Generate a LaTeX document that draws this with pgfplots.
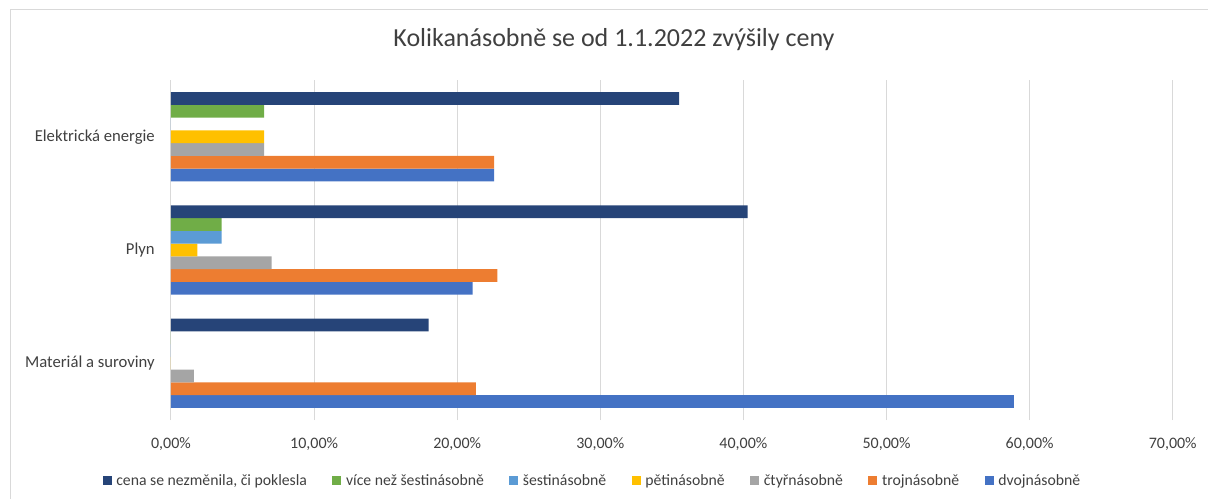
\documentclass[border=0pt]{standalone}
\usepackage{fontspec}
\setmainfont{Carlito}
\usepackage{pgfplots}
\pgfplotsset{compat=1.18}

\definecolor{cNone}{HTML}{264478}
\definecolor{cMore}{HTML}{70AD47}
\definecolor{cSix}{HTML}{5B9BD5}
\definecolor{cFive}{HTML}{FFC000}
\definecolor{cFour}{HTML}{A5A5A5}
\definecolor{cThree}{HTML}{ED7D31}
\definecolor{cTwo}{HTML}{4472C4}
\definecolor{gridc}{HTML}{D9D9D9}
\definecolor{txt}{HTML}{404040}

\begin{document}
\begin{tikzpicture}
\path[use as bounding box] (0,0) rectangle (906pt,-374.25pt);
\draw[line width=0.75pt, gridc] (7.5pt,-380pt) -- (7.5pt,-7.5pt) -- (912pt,-7.5pt);
\node[anchor=base, font=\fontsize{19.5}{22}\selectfont, text=txt] at (460.5pt,-35.25pt)
  {Kolikanásobně se od 1.1.2022 zvýšily ceny};

\begin{axis}[
  at={(128.25pt,-315pt)}, anchor=south west,
  scale only axis, width=751.3pt, height=255pt,
  xbar, bar width=0.1126,
  xmin=0, xmax=70, ymin=-0.5, ymax=2.5,
  enlargelimits=false,
  ytick={0,1,2},
  yticklabels={Materiál a suroviny, Plyn, Elektrická energie},
  xtick={0,10,...,70},
  xticklabels={{0,00\%},{10,00\%},{20,00\%},{30,00\%},{40,00\%},{50,00\%},{60,00\%},{70,00\%}},
  xmajorgrids,
  grid style={gridc, line width=0.75pt},
  axis line style={draw=none},
  major tick length=0pt,
  tick label style={text=txt},
  xticklabel style={font=\fontsize{12}{14}\selectfont, anchor=base, yshift=-21pt},
  yticklabel style={font=\fontsize{12.5}{14}\selectfont, anchor=east, inner sep=0pt, xshift=-12pt},
  legend columns=7,
  reverse legend,
  legend style={at={(0.421,-0.179)}, anchor=center, draw=none, fill=none,
    font=\fontsize{11.8}{14}\selectfont, text=txt,
    /tikz/every odd column/.append style={column sep=1.5pt},
    /tikz/every even column/.append style={column sep=17pt}},
  legend image code/.code={\fill[#1] (0pt,-3.4pt) rectangle (6.8pt,3.4pt);},
]
% y: 0 = Materiál a suroviny, 1 = Plyn, 2 = Elektrická energie
\addplot[fill=cTwo, draw=none, bar shift=-0.3378] coordinates {(58.9,0) (21.07,1) (22.58,2)};
\addlegendentry{dvojnásobně}
\addplot[fill=cThree, draw=none, bar shift=-0.2252] coordinates {(21.3,0) (22.8,1) (22.58,2)};
\addlegendentry{trojnásobně}
\addplot[fill=cFour, draw=none, bar shift=-0.1126] coordinates {(1.6,0) (7.03,1) (6.5,2)};
\addlegendentry{čtyřnásobně}
\addplot[fill=cFive, draw=none, bar shift=0] coordinates {(0,0) (1.84,1) (6.5,2)};
\addlegendentry{pětinásobně}
\addplot[fill=cSix, draw=none, bar shift=0.1126] coordinates {(0,0) (3.54,1) (0,2)};
\addlegendentry{šestinásobně}
\addplot[fill=cMore, draw=none, bar shift=0.2252] coordinates {(0,0) (3.54,1) (6.5,2)};
\addlegendentry{více než šestinásobně}
\addplot[fill=cNone, draw=none, bar shift=0.3378] coordinates {(18.0,0) (40.3,1) (35.5,2)};
\addlegendentry{cena se nezměnila, či poklesla}
\end{axis}
\end{tikzpicture}
\end{document}
